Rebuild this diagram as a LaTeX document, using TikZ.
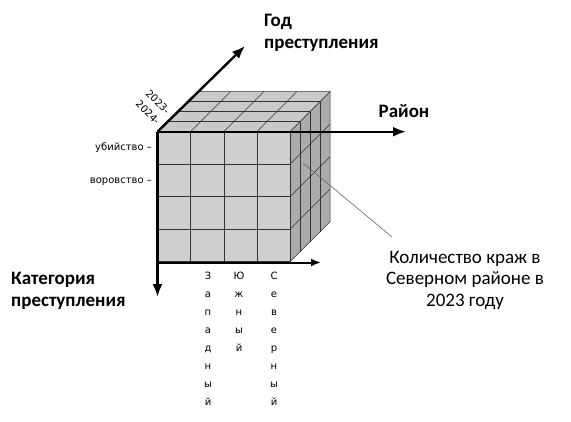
\documentclass[tikz,border=0pt]{standalone}
\usepackage{fontspec}
\setmainfont{Carlito}
\newfontfamily\smallfont{DejaVu Sans}
\usetikzlibrary{positioning, arrows.meta}
\tikzset{
    x=1pt, y=-1pt, % one unit is one pixel of the picture, y runs down
    axis/.style={line width=2.4pt, -{Latex[length=13pt, width=10pt]}}, % the thick axes
    grid/.style={line width=0.5pt, draw=black!80}, % lines between the cells
    title/.style={font=\fontsize{19}{21.5}\selectfont\bfseries, align=left, inner sep=0pt}, % axis names
    small/.style={font=\smallfont\fontsize{10}{12}\selectfont, inner sep=0pt}, % labels on the cube
    letters/.style={small, align=center, anchor=north, font=\smallfont\fontsize{10}{18}\selectfont}, % one letter per line
}
\begin{document}
\begin{tikzpicture}
    \useasboundingbox (0,0) rectangle (571,421);
    % corners of the cube
    \coordinate (O) at (157.5,131.7);
    \coordinate (F) at (290,261.7);
    \def\cs{33.125} % cell width on the front face
    \def\dd{10} % depth step of one layer

    % top face
    \filldraw[grid, fill=black!21] (O) -- ++(40,-40) -- ++(132.5,0) -- ++(-40,40) -- cycle;
    % right face
    \filldraw[grid, fill=black!33] (290,131.7) -- ++(40,-40) -- ++(0,130) -- ++(-40,40) -- cycle;
    % front face
    \filldraw[grid, fill=black!19] (O) rectangle (F);
    \foreach \i in {1,2,3} {
        \draw[grid] (157.5+\i*\cs,131.7) -- ++(0,130);
        \draw[grid] (157.5,131.7+\i*32.5) -- ++(132.5,0);
        \draw[grid] (157.5+\i*\cs,131.7) -- ++(40,-40);
        \draw[grid] (157.5+\i*\dd,131.7-\i*\dd) -- ++(132.5,0);
        \draw[grid] (290+\i*\dd,131.7-\i*\dd) -- ++(0,130);
        \draw[grid] (290,131.7+\i*32.5) -- ++(40,-40);
    }

    % axes
    \coordinate (yearend) at (245,46);
    \coordinate (regionend) at (406,131.7);
    \coordinate (catend) at (157.5,297);
    \coordinate (baseend) at (321,262.5);
    \draw[axis] (O) -- (yearend);
    \draw[axis] (O) -- (regionend);
    \draw[axis] (O) -- (catend);
    \draw[axis, line width=2pt, -{Latex[length=10pt, width=8pt]}] (157.5,262.5) -- (baseend);

    % axis names
    \node[title, anchor=north west] (year) at (264,14) {Год\\преступления};
    \node[title] (region) at (404,111) {Район};
    \node[title, anchor=north west] (cat) at (11,272) {Категория\\преступления};

    % years along the depth
    \node[small, rotate=-45] (y2023) at (158,102) {2023-};
    \node[small, rotate=-45] (y2024) at (148,112.5) {2024-};

    % rows
    \node[small, anchor=east] (murder) at (152,148) {убийство –};
    \node[small, anchor=east] (theft) at (152,182) {воровство –};

    % columns, written letter under letter
    \node[letters] (west) at (208,272) {З\\а\\п\\а\\д\\н\\ы\\й};
    \node[letters] (south) at (239,272) {Ю\\ж\\н\\ы\\й};
    \node[letters] (north) at (274,272) {С\\е\\в\\е\\р\\н\\ы\\й};

    % callout
    \node[align=center, font=\fontsize{19}{21.5}\selectfont, inner sep=0pt] (note) at (465,280) {Количество краж в\\Северном районе в\\2023 году};
    \coordinate (cell) at (303,163);
    \coordinate (lead) at (392,237);
    \draw[black!60, line width=0.6pt] (cell) -- (lead);
\end{tikzpicture}
\end{document}
